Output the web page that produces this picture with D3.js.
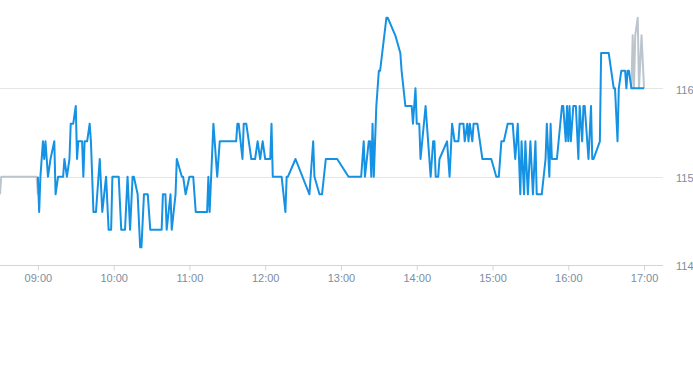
<!DOCTYPE html>
<html>
<head>
<meta charset="utf-8">
<script src="https://cdn.jsdelivr.net/npm/d3@7"></script>
<style>
  body { margin: 0; background: #fff; }
  svg { display: block; font-family: "Liberation Sans", Arial, sans-serif; }
</style>
</head>
<body>
<svg class="chart"></svg>
<script>
// main session (blue)
var sessionTimes = ["09:00","09:01","09:02","09:04","09:05","09:06","09:08","09:10","09:13","09:14","09:16","09:20","09:21","09:23","09:25","09:26","09:28","09:30","09:31","09:32","09:35","09:36","09:37","09:39","09:41","09:42","09:44","09:46","09:49","09:51","09:54","09:56","09:58","09:59",
  "10:04","10:06","10:09","10:11","10:13","10:15","10:16","10:19","10:21","10:22","10:24","10:27","10:29","10:38","10:39","10:41","10:42","10:45","10:46","10:49","10:50","10:54","10:55","10:57",
  "11:00","11:03","11:05","11:14","11:15","11:16","11:19","11:22","11:24","11:37","11:38","11:39","11:42","11:43","11:45","11:49","11:52","11:54","11:56","11:58",
  "12:00","12:04","12:05","12:06","12:13","12:16","12:17","12:18","12:24","12:35","12:36","12:38","12:39","12:43","12:45","12:48","12:57",
  "13:06","13:16","13:18","13:19","13:22","13:23","13:24","13:25","13:26","13:28","13:30","13:31","13:36","13:37","13:43","13:47","13:48","13:51","13:56","13:57","13:59",
  "14:00","14:02","14:03","14:07","14:11","14:13","14:14","14:15","14:17","14:18","14:24","14:26","14:28","14:30","14:33","14:34","14:37","14:38","14:40","14:41","14:42","14:44","14:45","14:48","14:50","14:52","14:59",
  "15:03","15:05","15:07","15:09","15:12","15:16","15:18","15:20","15:22","15:23","15:25","15:26","15:28","15:30","15:32","15:34","15:35","15:39","15:42","15:43","15:45","15:46","15:47","15:51","15:55","15:56","15:58","15:59",
  "16:00","16:01","16:02","16:04","16:06","16:08","16:09","16:11","16:12","16:13","16:16","16:18","16:19","16:20","16:25","16:26","16:32","16:36","16:37","16:39","16:40","16:42","16:45","16:46","16:47","16:48","16:50","17:00"];
var sessionPrices = [115.0,114.6,115.0,115.4,115.2,115.4,115.0,115.2,115.4,114.8,115.0,115.0,115.2,115.0,115.2,115.6,115.6,115.8,115.2,115.4,115.4,115.0,115.4,115.4,115.6,115.4,114.6,114.6,115.2,114.6,115.0,114.4,114.4,115.0,
  115.0,114.4,114.4,115.0,114.4,115.0,115.0,114.8,114.2,114.2,114.8,114.8,114.4,114.4,114.8,114.8,114.4,114.8,114.4,114.8,115.2,115.0,115.0,114.8,
  115.0,115.0,114.6,114.6,115.0,114.6,115.6,115.0,115.4,115.4,115.6,115.6,115.2,115.6,115.6,115.2,115.2,115.4,115.2,115.4,
  115.2,115.2,115.6,115.0,115.0,114.6,115.0,115.0,115.2,114.8,115.0,115.4,115.0,114.8,114.8,115.2,115.2,
  115.0,115.0,115.4,115.0,115.4,115.4,115.0,115.6,115.0,115.8,116.2,116.2,116.8,116.8,116.6,116.4,116.2,115.8,115.8,115.6,116.0,
  115.6,115.6,115.2,115.8,115.0,115.4,115.4,115.0,115.0,115.2,115.4,115.0,115.6,115.4,115.4,115.6,115.6,115.4,115.6,115.4,115.6,115.4,115.6,115.6,115.4,115.2,115.2,
  115.0,115.0,115.4,115.4,115.6,115.6,115.2,115.6,114.8,115.4,114.8,115.4,114.8,115.4,114.8,115.4,114.8,114.8,115.2,115.6,115.0,115.6,115.2,115.2,115.8,115.8,115.4,115.8,
  115.4,115.8,115.4,115.8,115.8,115.2,115.8,115.4,115.8,115.8,115.2,115.8,115.2,115.2,115.4,116.4,116.4,116.0,116.0,115.4,116.0,116.2,116.2,116.0,116.2,116.2,116.0,116.0];

// pre-market and late trades (grey)
var preTimes = ["08:30","08:31","08:59","09:00"];
var prePrices = [114.8,115.0,115.0,114.8];
var lateTimes = ["16:50","16:51","16:52","16:53","16:55","16:56","16:58","17:00"];
var latePrices = [116.0,116.6,116.0,116.6,116.8,116.0,116.6,116.0];

var hourTicks = ["09:00","10:00","11:00","12:00","13:00","14:00","15:00","16:00","17:00"];
var priceTicks = [114, 115, 116];

var width = 693, height = 365;
var plotW = 663, plotH = 265;
var parse = d3.timeParse("%H:%M");

function toPoints(times, prices) {
  return times.map(function(t, i) { return { t: parse(t), v: prices[i] }; });
}

var svg = d3.select(".chart").attr("width", width).attr("height", height);

var x = d3.scaleTime()
    .domain([parse("08:30"), parse("17:15")])
    .range([0, plotW]);
var y = d3.scaleLinear()
    .domain([114, 117])
    .range([plotH, 0]);

// grid
svg.append("g").selectAll("line")
    .data(priceTicks)
    .enter().append("line")
    .attr("x1", 0).attr("x2", plotW)
    .attr("y1", function(d) { return Math.round(y(d)) + 0.5; })
    .attr("y2", function(d) { return Math.round(y(d)) + 0.5; })
    .attr("stroke", function(d) { return d === 114 ? "#ccd6e0" : "#e6e6e6"; })
    .attr("stroke-width", 1);

// x axis
var xAxis = svg.append("g")
    .attr("transform", "translate(0," + (Math.round(y(114)) + 0.5) + ")")
    .call(d3.axisBottom(x)
      .tickValues(hourTicks.map(parse))
      .tickFormat(d3.timeFormat("%H:%M"))
      .tickSize(5)
      .tickPadding(4));
xAxis.select(".domain").remove();
xAxis.selectAll(".tick line").attr("stroke", "#ccd6e0");
xAxis.selectAll(".tick text")
    .attr("fill", "#7d8da1")
    .style("font-size", "11px")
    .style("font-family", "'Liberation Sans', Arial, sans-serif");

// y axis on the right
var yAxis = svg.append("g")
    .attr("transform", "translate(" + (plotW + 13) + ",0)")
    .call(d3.axisRight(y).tickValues(priceTicks).tickFormat(d3.format("d")).tickSize(0).tickPadding(0));
yAxis.select(".domain").remove();
yAxis.selectAll(".tick text")
    .attr("dy", "0.45em")
    .attr("fill", "#7d8da1")
    .style("font-size", "11px")
    .style("font-family", "'Liberation Sans', Arial, sans-serif");

var line = d3.line()
    .x(function(d) { return x(d.t); })
    .y(function(d) { return y(d.v); });

svg.append("path")
    .datum(toPoints(preTimes, prePrices))
    .attr("d", line)
    .attr("fill", "none")
    .attr("stroke", "#bcc5ce")
    .attr("stroke-width", 2)
    .attr("stroke-linejoin", "round");

svg.append("path")
    .datum(toPoints(lateTimes, latePrices))
    .attr("d", line)
    .attr("fill", "none")
    .attr("stroke", "#bcc5ce")
    .attr("stroke-width", 2)
    .attr("stroke-linejoin", "round");

svg.append("path")
    .datum(toPoints(sessionTimes, sessionPrices))
    .attr("d", line)
    .attr("fill", "none")
    .attr("stroke", "#1592e3")
    .attr("stroke-width", 2)
    .attr("stroke-linejoin", "round");
</script>
</body>
</html>
